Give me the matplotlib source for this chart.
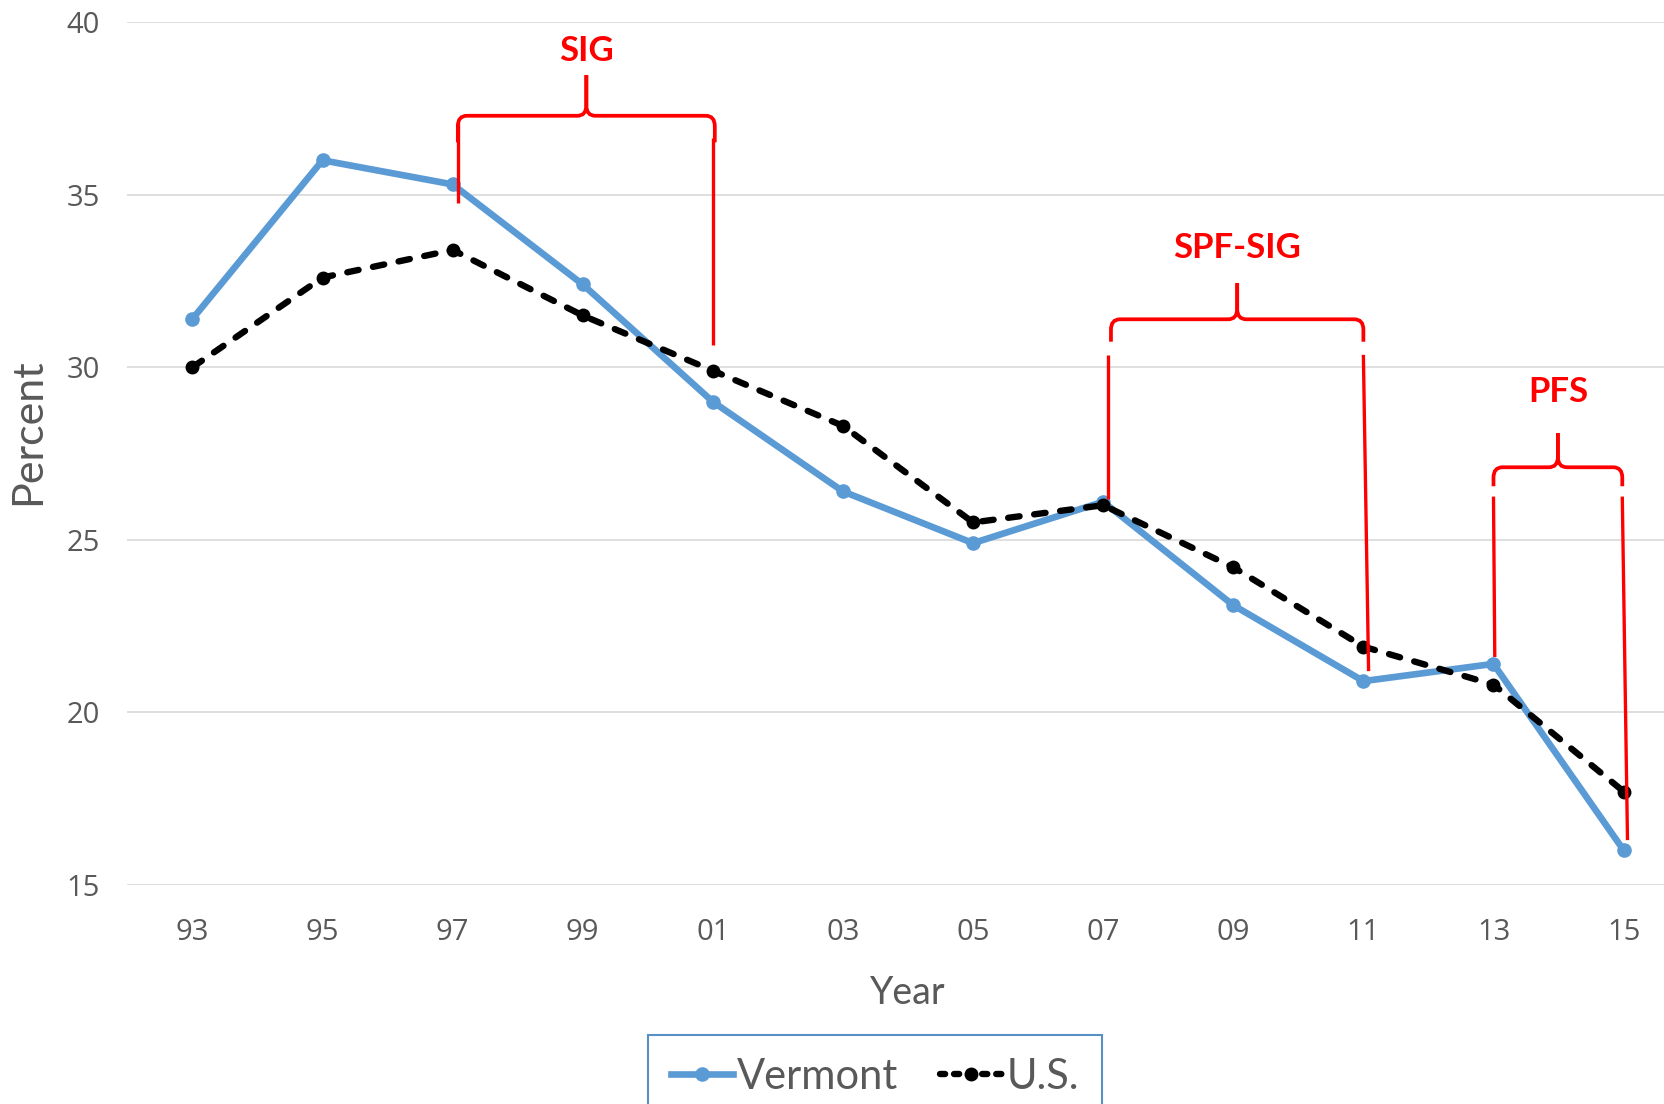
import numpy as np
import matplotlib
matplotlib.use('Agg')
import matplotlib.pyplot as plt
from matplotlib.path import Path
from matplotlib.patches import PathPatch
from matplotlib.lines import Line2D

# Data
years = ['93', '95', '97', '99', '01', '03', '05', '07', '09', '11', '13', '15']
vermont = [31.4, 36.0, 35.3, 32.4, 29.0, 26.4, 24.9, 26.1, 23.1, 20.9, 21.4, 16.0]
us = [30.0, 32.6, 33.4, 31.5, 29.9, 28.3, 25.5, 26.0, 24.2, 21.9, 20.8, 17.7]
y_ticks = [15, 20, 25, 30, 35, 40]

blue = '#5B9BD5'
red = '#FF0000'
grey = '#595959'

fig = plt.figure(figsize=(16.65, 11.04), dpi=100)
ax = fig.add_axes([0.0765, 0.1987, 0.9377, 0.7811])

x = np.arange(len(years))
ax.plot(x, vermont, color=blue, lw=4.8, marker='o', ms=9.5, zorder=3, label='Vermont')
ax.plot(x, us, color='black', lw=4.6, ls=(0, (1.8, 2.3)), dash_capstyle='round',
        marker='o', ms=9, zorder=4, label='U.S.')

ax.set_xlim(-0.5, len(years) - 0.5)
ax.set_ylim(15, 40)
ax.set_xticks(x)
ax.set_xticklabels(years)
ax.set_yticks(y_ticks)
ax.tick_params(length=0, labelsize=21, labelcolor=grey)
ax.tick_params(axis='x', pad=24)
ax.tick_params(axis='y', pad=20)
for lab in ax.get_xticklabels() + ax.get_yticklabels():
    lab.set_family('Open Sans')
ax.grid(axis='y', color='#D9D9D9', lw=1.2, zorder=0)
for s in ax.spines.values():
    s.set_visible(False)

fig.text(0.0166, 0.6087, 'Percent', rotation=90, ha='center', va='center',
         fontsize=31, color=grey, family='Lato')
fig.text(0.5453, 0.1005, 'Year', ha='center', va='center',
         fontsize=27, color=grey, family='Lato')


def brace(ax, x0, x1, y, y_end, y_top, rx=0.07, ry=0.3):
    xm = (x0 + x1) / 2
    for xa, sgn in ((x0, 1), (x1, -1)):
        verts = [(xa, y_end), (xa, y - ry), (xa, y), (xa + sgn * rx, y),
                 (xm - sgn * rx, y), (xm, y), (xm, y + ry), (xm, y_top)]
        codes = [Path.MOVETO, Path.LINETO, Path.CURVE3, Path.CURVE3,
                 Path.LINETO, Path.CURVE3, Path.CURVE3, Path.LINETO]
        ax.add_patch(PathPatch(Path(verts, codes), fill=False, ec=red, lw=2.7, zorder=5))


def red_line(ax, xa, ya, xb, yb):
    ax.plot([xa, xb], [ya, yb], color=red, lw=2.4, zorder=5, solid_capstyle='butt')


# SIG
brace(ax, 2.04, 4.015, 37.29, 36.52, 38.47)
red_line(ax, 2.04, 37.08, 2.04, 34.77)
red_line(ax, 4.0, 36.64, 4.0, 30.64)
ax.text(3.03, 39.17, 'SIG', color=red, fontsize=25, fontweight='bold',
        family='Lato', ha='center', va='center', zorder=6)

# SPF-SIG
brace(ax, 7.06, 9.0, 31.39, 30.74, 32.44)
red_line(ax, 7.04, 30.36, 7.04, 26.18)
red_line(ax, 9.0, 30.36, 9.04, 21.19)
ax.text(8.03, 33.47, 'SPF-SIG', color=red, fontsize=25, fontweight='bold',
        family='Lato', ha='center', va='center', zorder=6)

# PFS
brace(ax, 10.0, 10.99, 27.1, 26.55, 28.09)
red_line(ax, 10.0, 26.25, 10.01, 21.6)
red_line(ax, 10.99, 26.25, 11.03, 16.29)
ax.text(10.5, 29.29, 'PFS', color=red, fontsize=25, fontweight='bold',
        family='Lato', ha='center', va='center', zorder=6)

handles = [Line2D([], [], color=blue, lw=4.8, marker='o', ms=9.5),
           Line2D([], [], color='black', lw=4.6, ls=(0, (0.8, 1.4)),
                  dash_capstyle='round', marker='o', ms=9)]
leg = fig.legend(handles, ['Vermont', 'U.S.'], loc='upper center',
                 bbox_to_anchor=(0.5255, 0.0625), ncol=2, frameon=True,
                 fancybox=False, edgecolor='#2E75B6',
                 handlelength=1.5, handletextpad=0.1, columnspacing=1.0,
                 borderpad=0.55, borderaxespad=0,
                 prop={'family': 'Lato', 'size': 30})
leg.get_frame().set_linewidth(1.5)
for t in leg.get_texts():
    t.set_color(grey)

fig.savefig('out.png', dpi=100)
